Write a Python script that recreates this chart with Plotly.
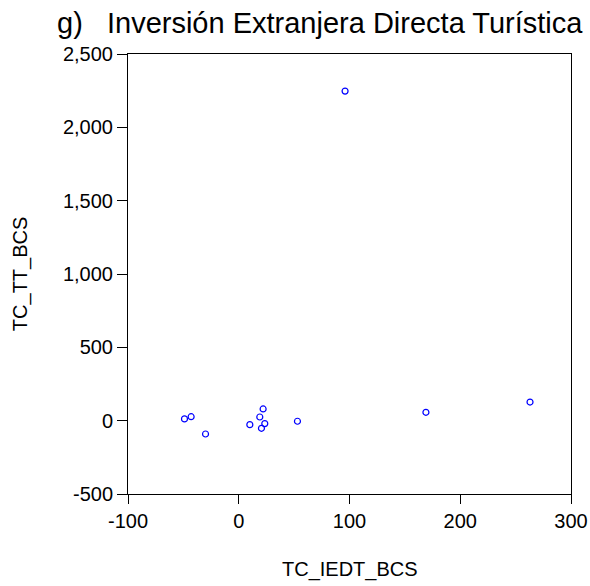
import plotly.graph_objects as go

# Data
tc_iedt_bcs = [-49, -43, -30, 10, 19, 22, 23.5, 20.5, 53, 169, 263, 96]
tc_tt_bcs = [12, 27, -91, -27, 25, 80, -20, -52, -4, 57, 127, 2247]

x_ticks = [-100, 0, 100, 200, 300]
y_ticks = [-500, 0, 500, 1000, 1500, 2000, 2500]
x_tick_labels = [f"{v:,}" for v in x_ticks]
y_tick_labels = [f"{v:,}" for v in y_ticks]

title_text = "g)\u00a0\u00a0\u00a0Inversión Extranjera Directa Turística"
x_title = "TC_IEDT_BCS"
y_title = "TC_TT_BCS"

FONT = "Arial, Liberation Sans, sans-serif"

fig = go.Figure()
fig.add_trace(go.Scatter(
    x=tc_iedt_bcs, y=tc_tt_bcs, mode="markers",
    marker=dict(symbol="circle-open", size=6, color="#0000ff",
                line=dict(width=1.2, color="#0000ff")),
    showlegend=False, hoverinfo="x+y"))

axis_common = dict(
    showline=True, linecolor="black", linewidth=1, mirror=True,
    ticks="outside", tickcolor="black", tickwidth=1,
    showgrid=False, zeroline=False, automargin=False,
    tickfont=dict(family=FONT, size=20, color="black"),
)

fig.update_xaxes(range=[-100, 300], tickvals=x_ticks, ticktext=x_tick_labels,
                 ticklen=9, **axis_common)
fig.update_yaxes(range=[-500, 2500], tickvals=y_ticks, ticktext=y_tick_labels,
                 ticklen=10, **axis_common)

fig.update_layout(
    width=590, height=586,
    margin=dict(l=128, r=19, t=54, b=92, pad=0, autoexpand=False),
    plot_bgcolor="white", paper_bgcolor="white",
    font=dict(family=FONT, color="black"),
    annotations=[
        dict(text=title_text, xref="paper", yref="paper", x=-0.1656, y=1.0705,
             xanchor="left", yanchor="middle", showarrow=False,
             font=dict(family=FONT, size=29, color="black")),
        dict(text=x_title, xref="paper", yref="paper", x=0.5, y=-0.1727,
             xanchor="center", yanchor="middle", showarrow=False,
             font=dict(family=FONT, size=20, color="black")),
        dict(text=y_title, xref="paper", yref="paper", x=-0.2435, y=0.5,
             xanchor="center", yanchor="middle", showarrow=False, textangle=-90,
             font=dict(family=FONT, size=20, color="black")),
    ],
)

fig.write_html("out.html",
               config={"displayModeBar": False},
               post_script="document.body.style.margin='0';document.body.style.padding='0';")
